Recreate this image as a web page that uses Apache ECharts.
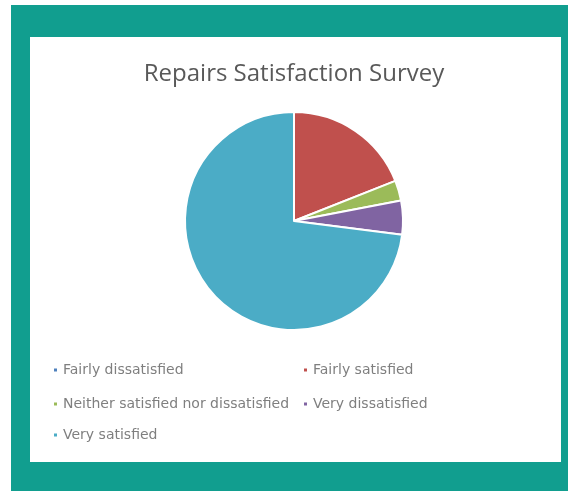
<!DOCTYPE html>
<html>
<head>
<meta charset="utf-8">
<script src="https://cdn.jsdelivr.net/npm/echarts@6/dist/echarts.min.js"></script>
<style>
  html, body { margin: 0; padding: 0; background: #fff; }
  #chart { width: 568px; height: 491px; }
</style>
</head>
<body>
<div id="chart"></div>
<script>
// survey answers, in the order the sheet lists them
const categories = [
  'Fairly dissatisfied',
  'Fairly satisfied',
  'Neither satisfied nor dissatisfied',
  'Very dissatisfied',
  'Very satisfied'
]
const shares = [0, 19, 3, 5, 73]
const colors = ['#4f81bd', '#c0504d', '#9bbb59', '#8064a2', '#4bacc6']

// legend spots (two columns, like the Excel legend)
const legendSpots = [
  [52, 363], [302, 363],
  [52, 397], [302, 397],
  [52, 428]
]

let chart = echarts.init(document.getElementById('chart'))

let legends = categories.map(function (name, i) {
  return {
    data: [name],
    left: legendSpots[i][0],
    top: legendSpots[i][1],
    padding: 0,
    icon: 'rect',
    itemWidth: 5,
    itemHeight: 5,
    itemGap: 4,
    selectedMode: false,
    textStyle: { color: '#7f7f7f', fontSize: 14, fontFamily: 'DejaVu Sans' }
  }
})

let option = {
  backgroundColor: '#fff',
  animation: false,
  color: colors,
  graphic: [
    { type: 'rect', z: -10, shape: { x: 11, y: 5, width: 557, height: 486 }, style: { fill: '#119e8f' } },
    { type: 'rect', z: -9, shape: { x: 30, y: 37, width: 531, height: 425 }, style: { fill: '#fff' } }
  ],
  title: {
    text: 'Repairs Satisfaction Survey',
    left: 289,
    top: 57,
    textAlign: 'center',
    textStyle: { color: '#595959', fontSize: 24, fontWeight: 'normal', fontFamily: 'Open Sans' }
  },
  legend: legends,
  series: [{
    type: 'pie',
    center: [294, 221],
    radius: 109,
    startAngle: 90,
    clockwise: true,
    label: { show: false },
    labelLine: { show: false },
    itemStyle: { borderColor: '#fff', borderWidth: 2 },
    emphasis: { disabled: true },
    data: categories.map(function (name, i) {
      return { name: name, value: shares[i] }
    })
  }]
}

chart.setOption(option)
window.addEventListener('resize', function () {
  chart.resize()
})
</script>
</body>
</html>
